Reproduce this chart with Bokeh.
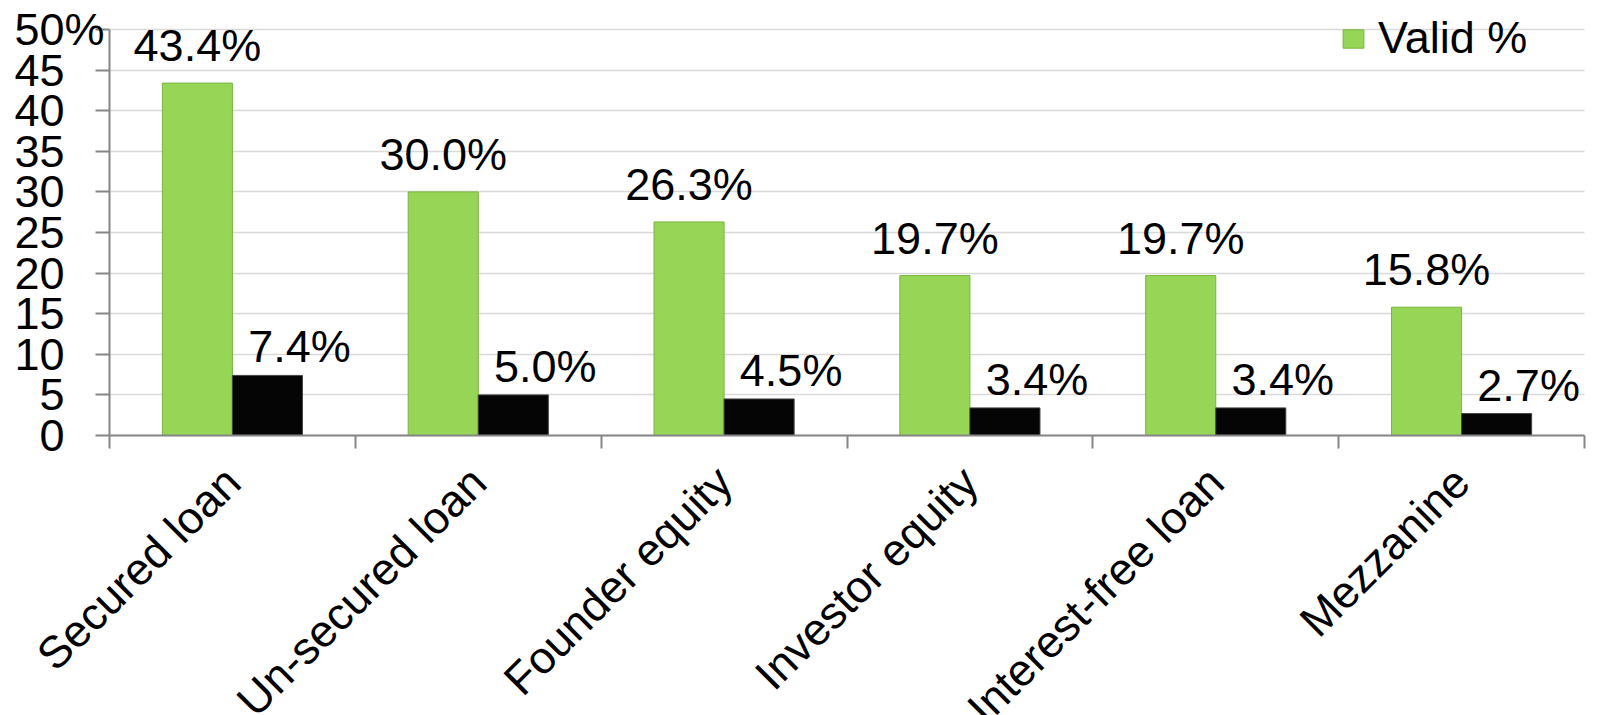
import numpy as np
from bokeh.plotting import figure
from bokeh.models import (ColumnDataSource, FixedTicker, LabelSet, Label, Legend,
                          LegendItem, Range1d)
from bokeh.core.properties import value
from bokeh.embed import file_html
from bokeh.resources import INLINE

# ---- data -----------------------------------------------------------------
categories = ["Secured loan", "Un-secured loan", "Founder equity",
              "Investor equity", "Interest-free loan", "Mezzanine"]
valid_pct = [43.4, 30.0, 26.3, 19.7, 19.7, 15.8]
second_pct = [7.4, 5.0, 4.5, 3.4, 3.4, 2.7]
y_ticks = [0, 5, 10, 15, 20, 25, 30, 35, 40, 45, 50]
y_tick_labels = ["0", "5", "10", "15", "20", "25", "30", "35", "40", "45", "50"]
legend_label = "Valid %"

FONT = "Liberation Sans"
FS = "45px"
GREEN = "#97D557"
GREEN_EDGE = "#7BB33E"
BLACK = "#050505"
AXIS = "#868686"
GRID = "#D9D9D9"

W, H = 1602, 715
# plot-area placement inside the canvas (pixels)
LEFT, RIGHT, TOP, BOTTOM = 109, 1584, 29, 435
N = len(categories)
YMAX = 50
px_x = (RIGHT - LEFT) / N          # pixels per category
px_y = (BOTTOM - TOP) / YMAX       # pixels per unit
x_range = Range1d(-LEFT / px_x, N + (W - RIGHT) / px_x)
y_range = Range1d(-(H - BOTTOM) / px_y, YMAX + TOP / px_y)

idx = np.arange(N)
centers = idx + 0.5
BAR_W = 0.285

src_g = ColumnDataSource(dict(x=centers - BAR_W / 2, top=valid_pct,
                              label=[f"{v:.1f}%" for v in valid_pct]))
src_b = ColumnDataSource(dict(x=centers + BAR_W / 2, top=second_pct,
                              label=[f"{v:.1f}%" for v in second_pct]))

p = figure(width=W, height=H, x_range=x_range, y_range=y_range,
           output_backend="svg", toolbar_location=None,
           min_border=0, min_border_left=0, min_border_right=0,
           min_border_top=0, min_border_bottom=0)
p.outline_line_color = None
p.background_fill_color = "white"
p.border_fill_color = "white"

# grid
p.xgrid.visible = False
p.ygrid.ticker = FixedTicker(ticks=y_ticks)
p.ygrid.grid_line_color = GRID
p.ygrid.grid_line_width = 1.5
try:
    p.ygrid.cross_bounds = (0, N)
except Exception:
    pass

# bars
rg = p.vbar(x="x", top="top", width=BAR_W, bottom=0, source=src_g,
            fill_color=GREEN, line_color=GREEN_EDGE, line_width=1)
rb = p.vbar(x="x", top="top", width=BAR_W, bottom=0, source=src_b,
            fill_color=BLACK, line_color="#444444", line_width=1)

# y axis
yax = p.yaxis[0]
yax.fixed_location = 0
yax.bounds = (0, YMAX)
yax.ticker = FixedTicker(ticks=y_ticks)
yax.major_label_overrides = {t: l for t, l in zip(y_ticks, y_tick_labels)}
yax.axis_line_color = AXIS
yax.axis_line_width = 2
yax.major_tick_line_color = AXIS
yax.major_tick_line_width = 2
yax.major_tick_out = 14
yax.major_tick_in = 0
yax.minor_tick_line_color = None
yax.major_label_standoff = 31
yax.major_label_text_font = FONT
yax.major_label_text_font_size = FS
yax.major_label_text_color = "black"

p.add_layout(Label(x=0, y=YMAX, x_offset=-45, text="%",
                   text_font=FONT, text_font_size=FS, text_color="black",
                   text_align="left", text_baseline="middle"))

# x axis: ticks at category boundaries, labels at category centres
xax = p.xaxis[0]
xax.fixed_location = 0
xax.bounds = (0, N)
xax.ticker = FixedTicker(ticks=list(centers), minor_ticks=list(range(N + 1)))
xax.major_label_overrides = {float(c): lab for c, lab in zip(centers, categories)}
xax.major_label_orientation = np.pi / 4
xax.major_label_text_font = FONT
xax.major_label_text_font_size = FS
xax.major_label_text_color = "black"
xax.major_label_standoff = 26
xax.major_tick_out = 0
xax.major_tick_in = 0
xax.minor_tick_out = 13
xax.minor_tick_in = 0
xax.minor_tick_line_color = AXIS
xax.minor_tick_line_width = 2
xax.axis_line_color = AXIS
xax.axis_line_width = 2

# data labels
p.add_layout(LabelSet(x="x", y="top", text="label", source=src_g,
                      text_font=value(FONT), text_font_size=value(FS),
                      text_color="black",
                      text_align="center", text_baseline="alphabetic",
                      y_offset=22))
p.add_layout(LabelSet(x="x", y="top", text="label", source=src_b,
                      text_font=value(FONT), text_font_size=value(FS),
                      text_color="black",
                      text_align="center", text_baseline="alphabetic",
                      x_offset=32, y_offset=13))

# legend
legend = Legend(items=[LegendItem(label=legend_label, renderers=[rg])],
                location=(1340, H - 64), orientation="vertical")
legend.label_text_font = FONT
legend.label_text_font_size = FS
legend.label_text_color = "black"
legend.glyph_width = 26
legend.glyph_height = 23
legend.label_standoff = 12
legend.padding = 0
legend.margin = 0
legend.spacing = 0
legend.border_line_color = None
legend.background_fill_alpha = 0
p.add_layout(legend)

open("out.html", "w").write(file_html(p, INLINE))
